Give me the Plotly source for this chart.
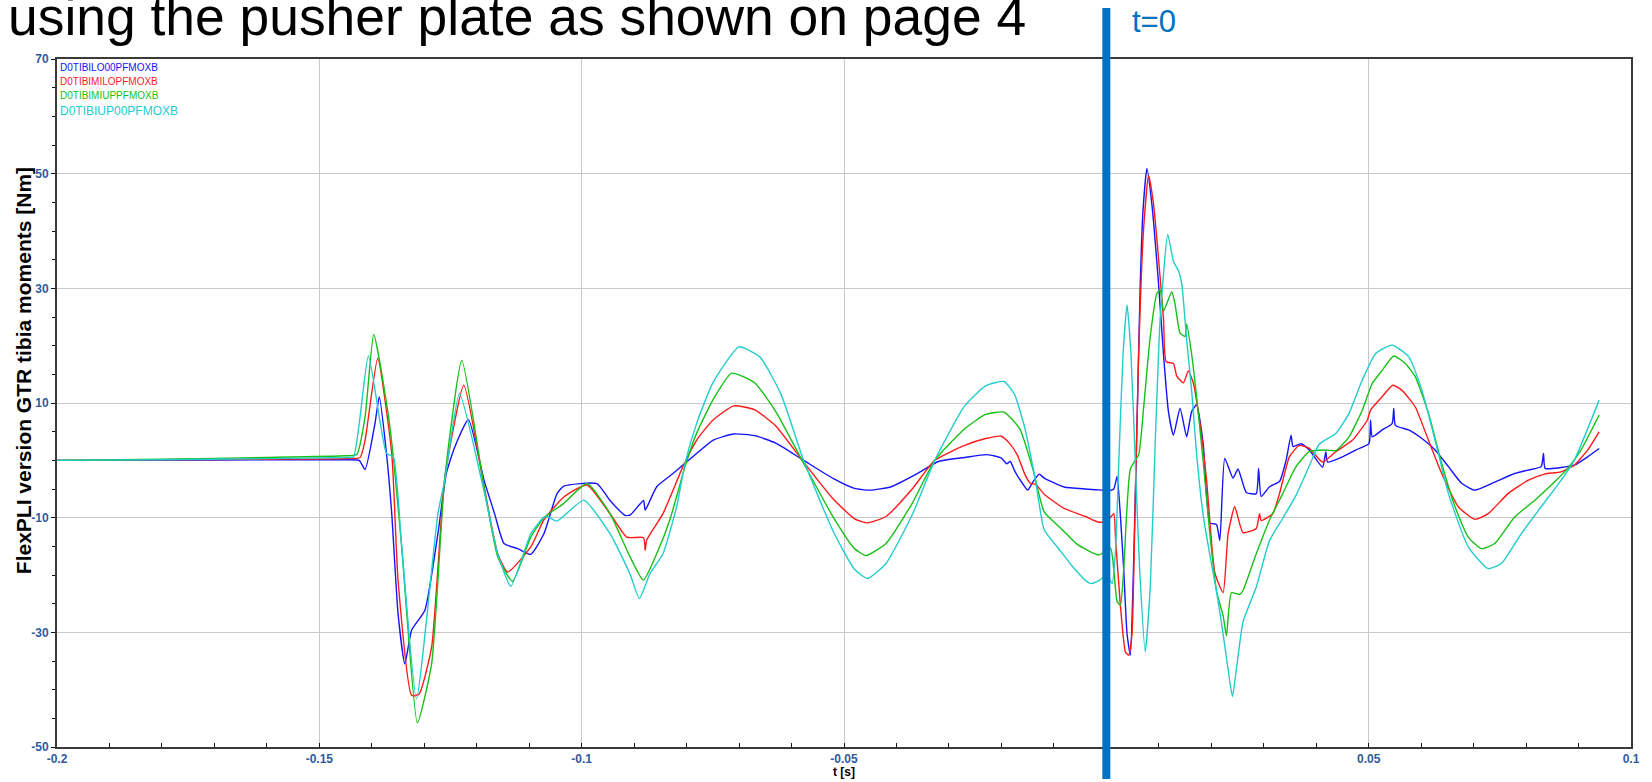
import plotly.graph_objects as go

# ---------------- data ----------------
series_names = ["D0TIBILO00PFMOXB", "D0TIBIMILOPFMOXB", "D0TIBIMIUPPFMOXB", "D0TIBIUP00PFMOXB"]

t_lo = [-0.200, -0.180, -0.160, -0.1450, -0.1424, -0.14128, -0.1394, -0.13857, -0.1372, -0.1362, -0.1350,
        -0.13370, -0.1324, -0.1299, -0.1274, -0.1258, -0.1242, -0.12158, -0.1186, -0.1166, -0.1148, -0.1122,
        -0.10971, -0.1072, -0.1047, -0.1034, -0.0971, -0.0946, -0.0917, -0.0907, -0.0882, -0.0879, -0.0857,
        -0.0826, -0.0781, -0.0750, -0.0710, -0.0670, -0.0630, -0.0577, -0.0520, -0.0480, -0.0450, -0.0410,
        -0.0360, -0.0320, -0.0270, -0.0227, -0.0200, -0.0190, -0.0183, -0.0175, -0.0160, -0.0150, -0.0140,
        -0.0128, -0.01184, -0.00805, -0.0040, -0.00142, 0.00016, 0.00142, 0.00205, 0.00268, 0.00331, 0.00395,
        0.00458, 0.00508, 0.00584, 0.00647, 0.00698, 0.00773, 0.00868, 0.00994, 0.01089, 0.01184, 0.01279,
        0.01405, 0.01531, 0.01626, 0.01721, 0.01847, 0.01973, 0.0210, 0.02163, 0.02257, 0.02415, 0.02510,
        0.02668, 0.02857, 0.02902, 0.02952, 0.0311, 0.0330, 0.03426, 0.03521, 0.03560, 0.0371, 0.03868,
        0.04121, 0.04184, 0.04216, 0.04499, 0.04752, 0.05004, 0.05036, 0.05068, 0.05257, 0.05446, 0.05478,
        0.0551, 0.05762, 0.06015, 0.06267, 0.0652, 0.06772, 0.07025, 0.07404, 0.07783, 0.08035, 0.08288,
        0.08332, 0.08364, 0.08667, 0.08919, 0.09172, 0.09393]
v_lo = [0.0, 0.0, 0.1, 0.1, 0.0, -1.6, 6.4, 11.1, 1.2, -9.3, -26.7,
        -35.5, -29.6, -26.2, -12.8, -2.3, 2.3, 7.1, -3.5, -9.3, -14.5, -15.4,
        -16.4, -12.8, -5.8, -4.5, -4.05, -7.0, -9.6, -9.5, -7.0, -8.7, -4.6,
        -2.3, 1.2, 3.5, 4.6, 4.3, 3.0, 0.0, -3.2, -4.9, -5.2, -4.6,
        -2.3, -0.2, 0.5, 1.0, 0.4, -0.6, -0.2, -1.8, -4.0, -5.2, -3.8,
        -2.4, -3.1, -4.65, -5.0, -5.15, -5.3, -5.0, -2.8, -9.65, -19.0, -30.3,
        -34.0, -22.1, 6.0, 30.95, 43.4, 50.9, 44.7, 30.95, 18.5, 8.5, 4.4,
        9.1, 4.1, 8.5, 9.7, 2.8, -10.9, -11.2, -14.0, 0.35, -3.1, -1.5,
        -5.6, -5.8, -1.4, -6.3, -4.6, -3.7, 0.0, 4.4, 2.4, 2.9, 1.8,
        -1.2, 1.5, -0.3, 0.6, 1.8, 2.9, 7.0, 4.1, 5.3, 6.4, 9.05,
        6.1, 5.3, 3.8, 1.8, -1.1, -4.0, -5.2, -3.8, -2.3, -1.7, -1.1,
        1.2, -1.4, -1.25, -0.85, 0.6, 2.06]

t_milo = [-0.200, -0.180, -0.160, -0.1450, -0.14223, -0.14128, -0.13888, -0.1362, -0.1350, -0.1324, -0.1310,
          -0.1286, -0.1261, -0.12246, -0.1186, -0.1160, -0.11413, -0.1097, -0.1072, -0.1034, -0.0990, -0.0946,
          -0.0914, -0.0882, -0.0879, -0.0876, -0.0845, -0.0807, -0.0781, -0.0750, -0.0710, -0.0670, -0.0630,
          -0.0577, -0.0520, -0.0480, -0.0455, -0.0420, -0.0370, -0.0327, -0.0270, -0.0230, -0.0200, -0.0185,
          -0.0170, -0.0155, -0.0145, -0.0135, -0.01184, -0.00805, -0.0040, -0.00142, 0.00016, 0.00142, 0.00174,
          0.00268, 0.00363, 0.00426, 0.00489, 0.00552, 0.00616, 0.0071, 0.00805, 0.0090, 0.00994, 0.01089,
          0.0114, 0.01279, 0.01342, 0.01468, 0.01563, 0.01658, 0.01752, 0.0191, 0.02068, 0.02226, 0.02321,
          0.02447, 0.02605, 0.02857, 0.0292, 0.02952, 0.03173, 0.0330, 0.03489, 0.03679, 0.03868, 0.04121,
          0.04373, 0.04689, 0.04973, 0.05036, 0.05257, 0.05459, 0.05636, 0.05888, 0.0614, 0.06393, 0.06709,
          0.07025, 0.07278, 0.07656, 0.08035, 0.08351, 0.08667, 0.08919, 0.09172, 0.09393]
v_milo = [0.0, 0.1, 0.2, 0.3, 0.5, 3.5, 17.8, 1.2, -20.9, -41.0, -40.8,
          -32.6, -3.2, 13.1, -4.6, -16.3, -19.5, -15.1, -10.4, -6.4, -4.3, -9.3,
          -13.4, -13.5, -15.7, -13.9, -9.3, -1.1, 3.5, 7.0, 9.5, 8.8, 6.0,
          -0.3, -6.8, -10.2, -10.9, -9.8, -5.0, 0.0, 2.6, 3.8, 4.2, 3.0,
          1.0, -2.5, -4.0, -4.2, -5.9, -8.4, -9.8, -10.8, -10.6, -9.3, -13.4,
          -25.3, -33.4, -34.0, -30.3, -6.5, 18.5, 40.3, 49.7, 44.7, 35.3, 24.7,
          17.2, 16.9, 14.7, 13.5, 15.6, 13.5, 8.5, -3.4, -19.6, -23.1, -12.8,
          -8.1, -12.6, -11.9, -9.3, -10.5, -9.3, -5.8, 0.6, 2.6, 2.1, -0.3,
          1.5, 3.5, 7.0, 8.75, 11.1, 13.1, 12.2, 9.3, 3.5, -2.3, -8.1,
          -10.3, -9.3, -5.8, -3.5, -2.4, -2.0, -0.85, 1.77, 4.97]

t_miup = [-0.200, -0.180, -0.160, -0.1450, -0.14286, -0.14128, -0.13964, -0.1369, -0.1359, -0.1343, -0.13131,
          -0.1286, -0.1261, -0.12284, -0.1186, -0.1160, -0.11318, -0.1097, -0.1072, -0.1034, -0.09898, -0.0946,
          -0.0908, -0.08824, -0.0857, -0.0832, -0.0803, -0.0781, -0.0750, -0.0714, -0.0670, -0.0630, -0.0577,
          -0.0520, -0.0480, -0.0458, -0.0420, -0.0370, -0.0327, -0.0270, -0.0230, -0.0195, -0.0165, -0.0140,
          -0.01184, -0.0085, -0.00553, -0.00142, 0.00079, 0.00142, 0.00205, 0.00268, 0.00331, 0.00458, 0.00616,
          0.0071, 0.00837, 0.00963, 0.01026, 0.01089, 0.01247, 0.0131, 0.01405, 0.0150, 0.01531, 0.01626,
          0.01721, 0.01847, 0.01973, 0.0210, 0.02226, 0.02289, 0.02384, 0.02541, 0.02605, 0.02858, 0.0311,
          0.03363, 0.03615, 0.03868, 0.04184, 0.04373, 0.04626, 0.04878, 0.05068, 0.05257, 0.05478, 0.05699,
          0.05888, 0.0614, 0.06393, 0.06646, 0.06898, 0.07151, 0.07404, 0.07783, 0.08162, 0.0854, 0.08793,
          0.09046, 0.09393]
v_miup = [0.0, 0.2, 0.5, 0.8, 1.0, 7.6, 21.96, 8.2, 0.6, -15.1, -45.8,
          -35.5, -3.2, 17.4, -4.6, -16.8, -21.1, -13.4, -10.0, -7.5, -4.05, -9.3,
          -16.8, -20.9, -16.3, -10.4, -1.1, 4.7, 10.5, 15.2, 13.5, 8.5, -0.5,
          -10.0, -15.4, -16.6, -14.5, -7.5, 0.0, 5.5, 8.0, 8.4, 5.5, -1.5,
          -9.0, -12.0, -14.65, -16.5, -15.3, -19.0, -24.6, -25.3, -19.0, -1.5, 1.0,
          9.1, 21.6, 29.1, 29.7, 26.0, 29.4, 27.2, 22.2, 21.6, 23.8, 18.5,
          11.0, -0.3, -12.8, -22.8, -27.1, -30.6, -23.1, -23.4, -22.7, -16.3, -10.4,
          -5.8, -1.1, 1.5, 1.8, 1.7, 4.1, 8.75, 13.4, 15.7, 18.2, 16.9,
          14.6, 8.2, -0.6, -8.1, -13.4, -15.4, -14.5, -9.9, -7.0, -3.8, -1.4,
          1.8, 7.9]

t_up = [-0.200, -0.180, -0.160, -0.1450, -0.14349, -0.14065, -0.1372, -0.1359, -0.1343, -0.13149, -0.1274,
        -0.1261, -0.12329, -0.1185, -0.1160, -0.11350, -0.1097, -0.1072, -0.1066, -0.1047, -0.09961, -0.0946,
        -0.0908, -0.0890, -0.0870, -0.0845, -0.0819, -0.0803, -0.0781, -0.0750, -0.0700, -0.0660, -0.0620,
        -0.0577, -0.0520, -0.0480, -0.0455, -0.0420, -0.0370, -0.0327, -0.0270, -0.0230, -0.0195, -0.0175,
        -0.0155, -0.0135, -0.01184, -0.0090, -0.0060, -0.00363, -0.0029, -0.00142, 0.00016, 0.0011, 0.00174,
        0.00237, 0.00319, 0.00395, 0.0047, 0.00552, 0.00635, 0.00742, 0.00837, 0.00931, 0.01026, 0.01171,
        0.01279, 0.01373, 0.01436, 0.01531, 0.01626, 0.01721, 0.01847, 0.01973, 0.0210, 0.02226, 0.02321,
        0.02403, 0.02478, 0.02605, 0.02858, 0.0311, 0.03363, 0.03615, 0.03868, 0.04057, 0.04373, 0.04626,
        0.04878, 0.05131, 0.05446, 0.05762, 0.06015, 0.06267, 0.0652, 0.06898, 0.07277, 0.0753, 0.07909,
        0.08288, 0.08667, 0.08919, 0.09393]
v_up = [0.0, 0.1, 0.3, 0.5, 0.6, 18.2, 1.2, 0.6, -15.1, -41.6, -9.3,
        -3.5, 11.66, -5.8, -16.3, -21.96, -12.8, -9.9, -9.8, -10.6, -6.95, -12.8,
        -19.8, -24.1, -19.8, -16.3, -8.1, -0.55, 6.4, 13.5, 19.8, 18.0, 11.5,
        0.0, -12.5, -19.0, -20.6, -18.0, -9.5, 0.0, 9.5, 13.0, 13.75, 11.5,
        5.5, -3.5, -12.1, -15.5, -19.0, -21.2, -21.5, -21.0, -20.0, -21.5, -15.9,
        -0.3, 18.5, 27.1, 18.5, -0.3, -19.0, -33.4, -22.1, 2.8, 24.7, 39.4,
        34.7, 33.1, 30.95, 21.0, 12.2, 1.0, -9.65, -16.5, -22.8, -30.3, -36.5,
        -41.2, -36.5, -28.2, -22.1, -14.0, -10.1, -6.1, -1.0, 2.8, 4.7, 8.2,
        14.0, 18.6, 20.1, 18.1, 12.2, 3.5, -5.8, -15.1, -18.9, -18.0, -12.8,
        -8.1, -3.5, 0.0, 10.5]

x_tickvals = [-0.2, -0.15, -0.1, -0.05, 0, 0.05, 0.1]
x_ticktext = ["-0.2", "-0.15", "-0.1", "-0.05", "0", "0.05", "0.1"]
y_tickvals = [-50, -30, -10, 10, 30, 50, 70]
y_ticktext = ["-50", "-30", "-10", "10", "30", "50", "70"]

title_text = "using the pusher plate as shown on page 4"
marker_text = "t=0"
y_title = "FlexPLI version GTR tibia moments [Nm]"
x_title = "t [s]"

# ---------------- styles ----------------
colors = ["#1414FF", "#FF1A1A", "#16C016", "#22CCCC"]
W, H = 1652, 782
ML, MR, MT, MB = 57, 12, 59, 35
plot_h = H - MT - MB
plot_w = W - ML - MR


def py(pix_y):
    return (H - MB - pix_y) / plot_h


def px(pix_x):
    return (pix_x - ML) / plot_w


fig = go.Figure()
for tt, vv, c, n in zip([t_lo, t_milo, t_miup, t_up], [v_lo, v_milo, v_miup, v_up], colors, series_names):
    fig.add_trace(go.Scatter(x=tt, y=vv, mode="lines", name=n,
                             line=dict(color=c, width=1.4, shape="spline", smoothing=0.5),
                             showlegend=False))

tickfont = dict(family="Liberation Sans, Arial, sans-serif", size=12, color="#2F5B9C", weight="bold")

fig.update_layout(
    width=W, height=H,
    margin=dict(l=ML, r=MR, t=MT, b=MB, pad=0),
    paper_bgcolor="white", plot_bgcolor="white",
    showlegend=False,
    xaxis=dict(range=[-0.2, 0.1], tickmode="array", tickvals=x_tickvals, ticktext=x_ticktext,
               showgrid=True, gridcolor="#C8C8C8", gridwidth=1, zeroline=False,
               showline=True, linecolor="#3A3A3A", linewidth=2, mirror=True,
               ticks="inside", ticklen=4, tickcolor="#111", tickfont=tickfont,
               minor=dict(dtick=0.01, tick0=0, ticks="inside", ticklen=4, tickcolor="#111", showgrid=False)),
    yaxis=dict(range=[-50, 70], tickmode="array", tickvals=y_tickvals, ticktext=y_ticktext,
               showgrid=True, gridcolor="#C8C8C8", gridwidth=1, zeroline=False,
               showline=True, linecolor="#3A3A3A", linewidth=2, mirror=True,
               ticks="outside", ticklen=4, tickcolor="#111", tickfont=tickfont,
               minor=dict(dtick=5, tick0=0, ticks="outside", ticklen=3, tickcolor="#111", showgrid=False)),
)

# t=0 marker line
fig.add_shape(type="line", xref="x", yref="paper", x0=0, x1=0, y0=py(779), y1=py(8),
              line=dict(color="#0070C0", width=8), layer="above")

annotations = []
# page title (partially cut at top)
annotations.append(dict(text=title_text, xref="paper", yref="paper", x=px(6), y=py(16.5),
                        xanchor="left", yanchor="middle", showarrow=False,
                        font=dict(family="Liberation Sans, Arial, sans-serif", size=53.4, color="black")))
annotations.append(dict(text=marker_text, xref="paper", yref="paper", x=px(1136), y=py(21.2),
                        xanchor="left", yanchor="middle", showarrow=False,
                        font=dict(family="Liberation Sans, Arial, sans-serif", size=31, color="#0070C0")))
annotations.append(dict(text=y_title, xref="paper", yref="paper", x=px(23), y=py(371),
                        xanchor="center", yanchor="middle", showarrow=False, textangle=-90,
                        font=dict(family="Liberation Sans, Arial, sans-serif", size=21, color="black",
                                  weight="bold")))
annotations.append(dict(text=x_title, xref="paper", yref="paper", x=0.5, y=py(772),
                        xanchor="center", yanchor="middle", showarrow=False,
                        font=dict(family="Liberation Sans, Arial, sans-serif", size=12, color="black",
                                  weight="bold")))
# legend text entries
legend_y = [67.7, 81.7, 96.0, 110.7]
legend_size = [10, 10, 10, 12]
for n, c, ly, ls in zip(series_names, colors, legend_y, legend_size):
    annotations.append(dict(text=n, xref="paper", yref="paper", x=px(58), y=py(ly),
                            xanchor="left", yanchor="middle", showarrow=False,
                            font=dict(family="Liberation Sans, Arial, sans-serif", size=ls, color=c)))
fig.update_layout(annotations=annotations)

fig.write_html("out.html", config={"displayModeBar": False},
               post_script="document.body.style.margin='0px';document.body.style.overflow='hidden';")
